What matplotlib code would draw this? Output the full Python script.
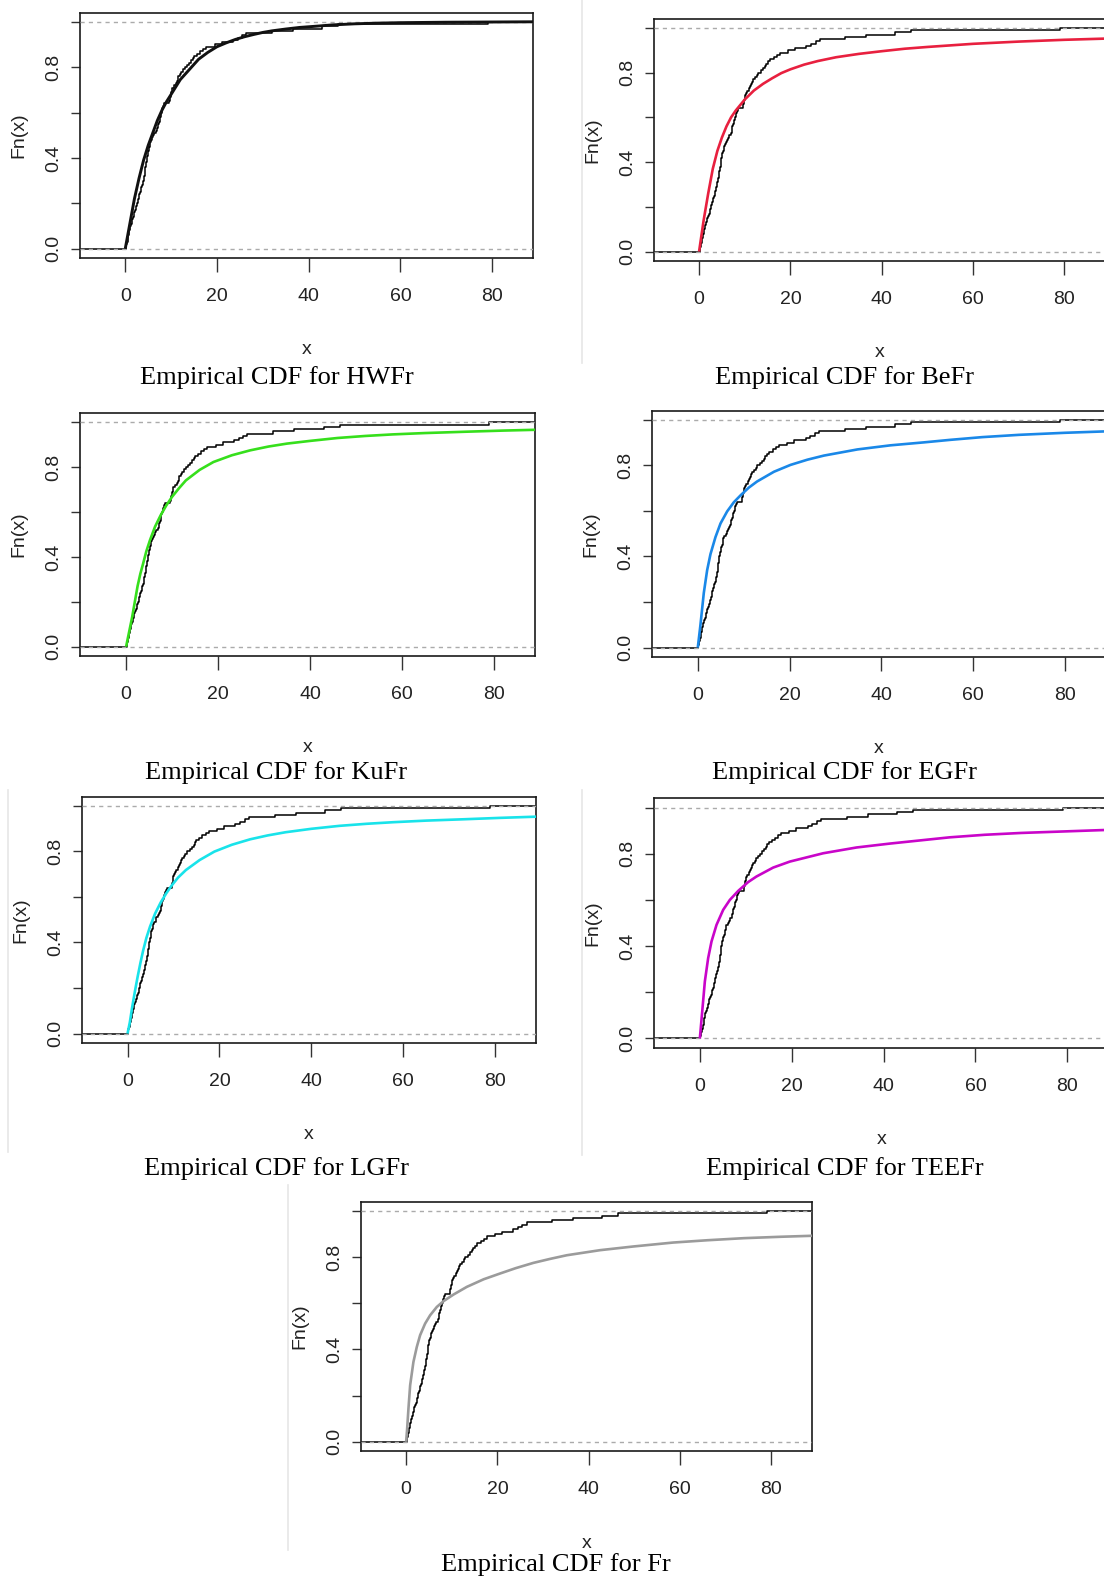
import matplotlib
matplotlib.use("Agg")
import matplotlib.pyplot as plt
import numpy as np
from matplotlib.lines import Line2D
from matplotlib.transforms import offset_copy

W, H, DPI = 1104, 1582, 100

# sorted sample (same data in every panel)
sample = [
    0.1, 0.2, 0.35, 0.5, 0.6, 0.7, 0.8, 0.9, 1.0, 1.1,
    1.2, 1.4, 1.5, 1.7, 1.8, 2.0, 2.1, 2.3, 2.4, 2.6,
    2.7, 2.8, 3.0, 3.1, 3.2, 3.4, 3.5, 3.6, 3.8, 3.9,
    4.0, 4.1, 4.2, 4.3, 4.4, 4.4, 4.5, 4.6, 4.7, 4.7,
    4.8, 4.9, 5.0, 5.1, 5.2, 5.4, 5.5, 5.6, 5.8, 6.1,
    6.3, 6.6, 6.9, 7.1, 7.2, 7.3, 7.5, 7.6, 7.7, 7.9,
    8.0, 8.1, 8.3, 8.5, 9.6, 9.7, 9.8, 9.9, 10.0, 10.1,
    10.3, 10.6, 11.0, 11.2, 11.4, 11.6, 11.9, 12.2, 12.6, 13.0,
    13.5, 14.0, 14.4, 14.7, 15.0, 15.6, 16.3, 17.0, 17.7, 19.5,
    21.0, 23.5, 24.5, 25.5, 26.4, 32.0, 36.6, 43.0, 46.5, 79.0,
]

models = ["HWFr", "BeFr", "KuFr", "EGFr", "LGFr", "TEEFr", "Fr"]
fit_colors = ["#111111", "#e8203f", "#36df1c", "#1a88e8", "#19e3ea", "#c905c9", "#9b9b9b"]

# fitted CDF curves
hwfr_x = [0, 1, 2, 3, 4, 5, 6, 7, 8, 9, 10, 12, 14, 16, 18, 20, 22, 24, 26, 28, 30, 32,
          35, 38, 42, 45, 50, 55, 60, 70, 80, 90]
hwfr_f = [0, 0.11, 0.22, 0.31, 0.39, 0.455, 0.51, 0.565, 0.61, 0.648, 0.68, 0.745, 0.79,
          0.835, 0.865, 0.89, 0.907, 0.922, 0.934, 0.944, 0.953, 0.96, 0.968, 0.975, 0.981,
          0.986, 0.991, 0.994, 0.996, 0.998, 0.999, 1.0]
befr_x = [0, 0.5, 1, 1.5, 2, 3, 4, 5, 6, 7, 8, 10, 12, 14, 16, 18, 20, 23, 26, 30, 35, 40,
          45, 50, 55, 60, 65, 70, 75, 80, 85, 90]
befr_f = [0, 0.07, 0.14, 0.2, 0.26, 0.37, 0.45, 0.51, 0.56, 0.6, 0.63, 0.68, 0.72, 0.75,
          0.775, 0.798, 0.815, 0.836, 0.852, 0.869, 0.884, 0.896, 0.907, 0.915, 0.922,
          0.929, 0.934, 0.939, 0.943, 0.947, 0.95, 0.953]
kufr_x = [0, 0.5, 1.3, 2.5, 3.1, 3.7, 4.4, 5.2, 6.3, 7.5, 8.7, 10, 11.5, 13, 16, 19, 23, 27,
          31, 35, 40, 46, 52, 58, 65, 74, 82, 90]
kufr_f = [0, 0.05, 0.13, 0.27, 0.325, 0.37, 0.425, 0.475, 0.535, 0.585, 0.628, 0.668, 0.706,
          0.741, 0.788, 0.823, 0.853, 0.875, 0.892, 0.905, 0.917, 0.93, 0.939, 0.946,
          0.952, 0.958, 0.963, 0.967]
egfr_x = [0, 0.58, 1.31, 2.04, 2.76, 3.85, 4.95, 6.4, 7.85, 9.3, 11.1, 12.9, 16.6, 20.2,
          23.9, 27.5, 34.8, 42, 49.3, 55, 62, 70, 80, 90]
egfr_f = [0, 0.1, 0.24, 0.34, 0.41, 0.485, 0.545, 0.598, 0.638, 0.668, 0.702, 0.729,
          0.772, 0.802, 0.825, 0.843, 0.87, 0.888, 0.901, 0.912, 0.924, 0.934, 0.943, 0.95]
lgfr_x = [0, 0.5, 1.0, 1.6, 2.2, 2.8, 3.4, 4.1, 4.9, 6, 7.2, 8.4, 9.6, 11, 12.7, 15.7, 18.9,
          22.7, 26.7, 30.5, 34.4, 40, 46.1, 52, 57.8, 65, 73.3, 81, 90]
lgfr_f = [0, 0.05, 0.115, 0.185, 0.25, 0.31, 0.365, 0.42, 0.47, 0.527, 0.575, 0.615, 0.65,
          0.685, 0.718, 0.762, 0.799, 0.829, 0.853, 0.87, 0.884, 0.899, 0.912, 0.921,
          0.928, 0.935, 0.941, 0.947, 0.953]
teefr_x = [0, 0.58, 1.09, 1.81, 2.54, 3.63, 5.08, 6.53, 8.35, 10.5, 12.3, 15.96, 19.6,
           26.85, 34.1, 41.4, 48.6, 54.4, 62, 70, 80, 90]
teefr_f = [0, 0.131, 0.247, 0.348, 0.42, 0.492, 0.557, 0.6, 0.639, 0.677, 0.701, 0.74,
           0.766, 0.802, 0.827, 0.844, 0.859, 0.871, 0.882, 0.89, 0.897, 0.904]
fr_x = [0, 0.2, 0.51, 0.88, 1.6, 2.34, 3.07, 4.16, 5.26, 6.72, 8.18, 10.4, 13.3, 17, 20.6,
        24, 27.9, 31.5, 35.2, 42.5, 49.8, 58.5, 66, 74, 82, 90]
fr_f = [0, 0.05, 0.144, 0.245, 0.346, 0.411, 0.462, 0.512, 0.548, 0.584, 0.609, 0.638,
        0.671, 0.704, 0.729, 0.752, 0.775, 0.792, 0.808, 0.83, 0.846, 0.863, 0.873, 0.882,
        0.888, 0.893]

fits = [(hwfr_x, hwfr_f), (befr_x, befr_f), (kufr_x, kufr_f), (egfr_x, egfr_f),
        (lgfr_x, lgfr_f), (teefr_x, teefr_f), (fr_x, fr_f)]

x_ticks = [0, 20, 40, 60, 80]
y_ticks = [0.0, 0.2, 0.4, 0.6, 0.8, 1.0]
y_labels = {0.0: "0.0", 0.4: "0.4", 0.8: "0.8"}

# axes boxes in pixels: left, top, right, bottom
boxes = [
    (79.5, 12.7, 533.3, 257.7),
    (653.5, 19.0, 1105.5, 260.5),
    (80.2, 413.3, 535.2, 655.7),
    (652.0, 410.7, 1106.1, 656.7),
    (81.7, 796.7, 536.3, 1042.7),
    (654.0, 798.3, 1108.6, 1047.7),
    (360.6, 1201.7, 812.1, 1451.0),
]
title_pos = [(276.5, 378), (844.6, 378), (276.5, 773), (844.6, 773),
             (276.5, 1169), (844.6, 1169), (556, 1565)]
# faint screenshot edges
edges = [(581.5, 0, 363), (8, 790, 1152), (581.5, 790, 1155), (288, 1185, 1550)]

XLIM = (-9.98, 88.98)
YLIM = (-0.04, 1.04)

tick_font = ["Liberation Sans Narrow", "Liberation Sans", "DejaVu Sans"]
side_font = ["Liberation Sans", "DejaVu Sans"]

fig = plt.figure(figsize=(W / DPI, H / DPI), dpi=DPI)

xs = np.sort(np.array(sample))
fn = np.arange(1, len(xs) + 1) / len(xs)
step_x = np.concatenate([[XLIM[0]], xs, [XLIM[1]]])
step_y = np.concatenate([[0.0], fn, [1.0]])

for i, (name, (fx, ff)) in enumerate(zip(models, fits)):
    l, t, r, b = boxes[i]
    ax = fig.add_axes([l / W, 1 - b / H, (r - l) / W, (b - t) / H])
    ax.set_xlim(*XLIM)
    ax.set_ylim(*YLIM)

    ax.step(step_x, step_y, where="post", color="black", lw=1.1, zorder=2)
    for h in (0, 1):
        ax.axhline(h, color="#ababab", lw=1.0, ls=(0, (3, 3)), zorder=3)
    lw = 2.1 if i == 0 else 1.9
    ax.plot(fx, ff, color=fit_colors[i], lw=lw, zorder=4, solid_capstyle="butt",
            solid_joinstyle="round")

    ax.set_xticks(x_ticks)
    ax.set_yticks(y_ticks)
    ax.tick_params(axis="x", direction="out", length=10, width=1.0, color="#333333",
                   labelbottom=False)
    ax.tick_params(axis="y", direction="out", length=6.2, width=1.0, color="#333333",
                   labelleft=False)
    for s in ax.spines.values():
        s.set_linewidth(1.2)
        s.set_color("#1a1a1a")

    ytr = offset_copy(ax.get_yaxis_transform(), fig=fig, x=-26, y=0, units="dots")
    for v, lab in y_labels.items():
        ax.text(0, v, lab, transform=ytr, rotation=90, ha="center", va="center",
                fontsize=14, family=side_font, color="#222222")
    xtr = offset_copy(ax.get_xaxis_transform(), fig=fig, x=0, y=-39, units="dots")
    for v in x_ticks:
        ax.text(v, 0, str(v), transform=xtr, ha="center", va="center",
                fontsize=14, family=tick_font, color="#222222")

    ltr = offset_copy(ax.transAxes, fig=fig, x=-61, y=0, units="dots")
    ax.text(0, 0.5, "Fn(x)", transform=ltr, rotation=90, ha="center", va="center",
            fontsize=14, family=side_font, color="#222222")
    btr = offset_copy(ax.transAxes, fig=fig, x=0, y=-92, units="dots")
    ax.text(0.5, 0, "x", transform=btr, ha="center", va="center",
            fontsize=14, family=tick_font, color="#222222")

    tx, ty = title_pos[i]
    fig.text(tx / W, 1 - ty / H, f"Empirical CDF for {name}", ha="center", va="center",
             fontsize=19, family=["Liberation Serif", "DejaVu Serif"])

for ex, y0, y1 in edges:
    fig.add_artist(Line2D([ex / W, ex / W], [1 - y0 / H, 1 - y1 / H],
                          color="#e6e6e6", lw=1.2))

fig.savefig("out.png", dpi=DPI)
